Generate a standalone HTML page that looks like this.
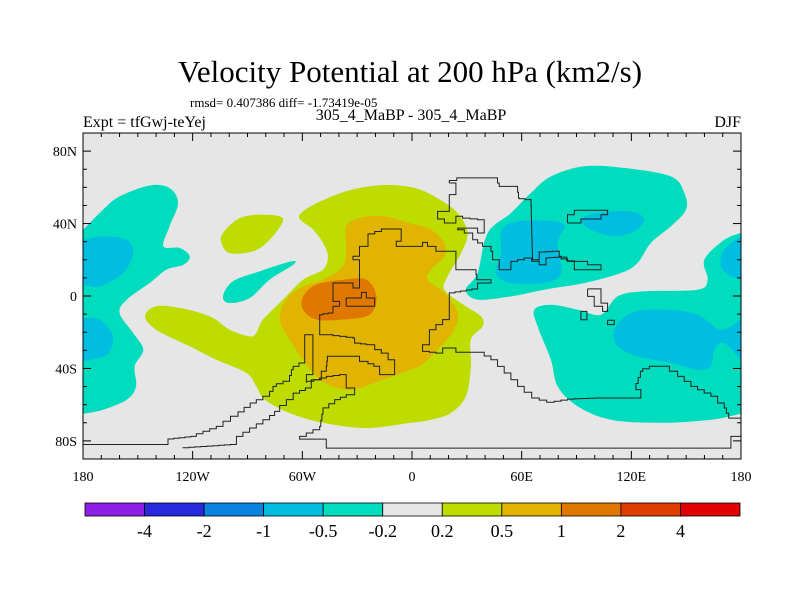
<!DOCTYPE html>
<html><head><meta charset="utf-8"><style>
body{margin:0;background:#fff}
svg text{font-family:"Liberation Serif",serif;fill:#000}
</style></head><body>
<svg id="c" width="800" height="600" xmlns="http://www.w3.org/2000/svg">
<text x="410" y="82" font-size="31" text-anchor="middle">Velocity Potential at 200 hPa (km2/s)</text>
<text x="190" y="107" font-size="13">rmsd= 0.407386 diff= -1.73419e-05</text>
<text x="83" y="127" font-size="16">Expt = tfGwj-teYej</text>
<text x="411" y="120" font-size="16" text-anchor="middle">305_4_MaBP - 305_4_MaBP</text>
<text x="741" y="127" font-size="16" text-anchor="end">DJF</text>
<defs><clipPath id="pc"><rect x="83" y="133" width="658" height="326"/></clipPath></defs>
<rect x="83" y="133" width="658" height="326" fill="#e6e6e6"/>
<g id="fills" clip-path="url(#pc)"></g>
<g id="coast" clip-path="url(#pc)" fill="none" stroke="#222" stroke-width="1"></g>
<rect x="83" y="133" width="658" height="326" fill="none" stroke="#000" stroke-width="1"/>
<g id="axes"></g>
<g id="cbar"></g>
</svg>
<script>
const NS="http://www.w3.org/2000/svg";
const X0=83,X1=741,Y0=133,Y1=459;
function xs(lon){return X0+(lon+180)/360*(X1-X0);}
function ys(lat){return Y0+(90-lat)/180*(Y1-Y0);}

const levelLabels=["-4","-2","-1","-0.5","-0.2","0.2","0.5","1","2","4"];
const levelColors=["#8c1ee6","#2828dc","#0a82e0","#00bee0","#00dcbe","#e6e6e6","#bedc00","#e0b400","#e07800","#e03c00","#e00000"];

const cyanWestLon=[-181,-180,-169,-160,-143.5,-132.6,-128,-132.6,-136,-127,-121.6,-125,-134.4,-143.5,-156,-160,-152.6,-147,-151.7,-151,-156,-169,-180,-181];
const cyanWestLat=[36.6,36.6,47.7,55,61,59.6,51.3,38.5,27.4,26.5,21.9,17.3,14.5,7.2,-2,-9.4,-20.4,-29.6,-38.8,-49.9,-57.2,-62.8,-65,-65];
const blueWest1Lon=[-181,-180,-169,-156,-152.6,-158,-171,-180,-181];
const blueWest1Lat=[31,31,33,31,23.7,12.7,5.3,6.3,6.3];
const blueWest2Lon=[-181,-180,-171,-163.6,-167,-180,-181];
const blueWest2Lat=[-12.2,-12.2,-13,-22.3,-32.4,-36,-36];
const greenBlobLon=[-103.4,-94.3,-81.5,-70.6,-77.9,-87,-99.8,-104.3];
const greenBlobLat=[34.8,43,44.9,42.5,31,24.7,23.7,29.3];
const cyanStreakLon=[-103.4,-98,-83.4,-66,-65,-77.9,-88.8,-99.8];
const cyanStreakLat=[-0.2,8.1,13.6,19.1,17.3,9,-1.1,-3.9];
const greenBigLon=[-61.5,-41.4,-19.5,0,14,25,30.4,26.8,19.5,17.7,26.8,37.7,38.6,32.2,32.2,29.5,21.3,10.4,-0.6,-25,-48.7,-67,-80.6,-85.2,-90.6,-107,-121.6,-140,-146,-140,-127,-110.7,-99.8,-88.8,-85.2,-81.5,-70.6,-59.6,-48.7,-46,-48.7,-54];
const greenBigLat=[44.9,56,61,60,54,45.8,34.8,23.7,10.9,3.5,-3.9,-11.2,-16.8,-24.1,-38.8,-55.4,-64.6,-68.3,-70,-72.9,-70,-64.6,-57.2,-49.9,-42.5,-35.2,-27.8,-18.6,-11.2,-5.7,-6.6,-11.2,-18.6,-22.3,-20.4,-13,-2,9,14.5,21.9,29.3,36.6];
const orangeLon=[-36,-28.7,-15.9,0,10.4,17.7,17.7,10.4,8.5,17.7,25,23.1,15.8,6.7,-0.6,-15.9,-32.3,-43.2,-52.4,-59.6,-67,-72.4,-68.8,-59.6,-48.7,-37.8,-36];
const orangeLat=[38.5,43,44,39.8,36.6,29.3,21.9,14.5,9,1.7,-9.4,-18.6,-27.8,-37,-40.7,-46.2,-51.7,-49.9,-44.4,-35.2,-24.1,-13,-2,5.3,9,16.4,27.4];
const darkOrangeLon=[-59.6,-52.4,-37.8,-25,-19.5,-23.2,-37.8,-52.4,-59.6];
const darkOrangeLat=[-0.2,6.3,9,9,-0.2,-10.3,-13,-13,-7.6];
const cyanNELon=[29.5,35.9,41.4,54.1,65.1,76,94.3,116.1,141.7,149,149.9,141.7,130.7,123.4,114.3,94.3,72.4,54.1,35.9];
const cyanNELat=[3.5,12.7,34.8,45.8,56.9,66,71.6,70.7,66,56.9,47.7,38.5,29.3,18.2,12.7,7.2,3.5,-0.2,-2];
const blueNE1Lon=[48.7,54.1,68.7,83.3,79.7,81.5,72.4,54.1,45.9,48.7];
const blueNE1Lat=[34.8,40.3,41.8,39.4,29.3,12.7,7.2,7.2,12.7,23.7];
const blueNE2Lon=[92.4,101.5,119.8,127.1,121.6,110.7,97.9];
const blueNE2Lat=[42.1,45.8,46.7,42.1,35.7,32.9,36.6];
const cyanSELon=[66.9,76,90.6,103.4,112.5,127.1,156.2,161.7,159.9,170.8,180,181,181,180,163.5,136.2,108.8,90.6,79.7,76,68.7];
const cyanSELat=[-7.5,-4.8,-7.5,-10.3,-0.2,2.6,3.5,9,20,31,34.8,34.8,-65,-65,-68.3,-70,-68.3,-60.9,-49.9,-35.2,-16.8];
const blueSE1Lon=[110.7,119.8,138,156.2,169,180,181,181,180,170.8,165.4,163.5,156.2,141.7,123.4,112.5];
const blueSE1Lat=[-18.6,-9.4,-7.5,-10.3,-18.6,-13,-13,-35,-35.2,-26,-29.6,-38.8,-40.7,-37,-33.3,-27.8];
const blueSE2Lon=[181,180,170.8,169,174.5,180,181];
const blueSE2Lat=[32.9,32.9,25.6,16.4,10.9,10,10];

const regions=[
 ["cyan-west-region",cyanWestLon,cyanWestLat,4],
 ["cyan-southeast-region",cyanSELon,cyanSELat,4],
 ["cyan-northeast-region",cyanNELon,cyanNELat,4],
 ["cyan-streak-region",cyanStreakLon,cyanStreakLat,4],
 ["blue-west-upper-region",blueWest1Lon,blueWest1Lat,3],
 ["blue-west-lower-region",blueWest2Lon,blueWest2Lat,3],
 ["blue-northeast-region",blueNE1Lon,blueNE1Lat,3],
 ["blue-northeast-small-region",blueNE2Lon,blueNE2Lat,3],
 ["blue-southeast-region",blueSE1Lon,blueSE1Lat,3],
 ["blue-east-edge-region",blueSE2Lon,blueSE2Lat,3],
 ["green-blob-region",greenBlobLon,greenBlobLat,6],
 ["green-main-region",greenBigLon,greenBigLat,6],
 ["orange-region",orangeLon,orangeLat,7],
 ["dark-orange-region",darkOrangeLon,darkOrangeLat,8]
];

const coast1Lon=[-180,-178,-133.5,-133.5,-118,-110.7,-103.4,-95.2,-85.2,-77.9,-74.2,-67,-65,-58.7,-58.7,-54.2,-54.2,-57.8,-57.8,-49.6,-46.9,-46,-28.7,-24.1,-17.7,-16.8,-9.5,-9.5,-13.1,-16.8,-20.4,-25,-31.4,-32.3,-46.9,-50.5,-50.5,-48.7,-43.2,-39.6,-39.6,-43.2,-43.2,-38.7,-32.3,-31.4,-28.7,-28.7,-32.3,-32.3,-28.7,-28.7,-24.1,-24.1,-13.1,-5.9,-5.9,-8.6,-5,0.5,5.8,5.8,8.5,8.5,13.1,13.1,24,24,35,36,43.2,43.2,35.9,35.9,20.4,20.4,13.1,9.5,9.5,5.8,5.8,9.5,16.8,16.8,24,24,39.5,46.8,54.1,61.4,69.6,77.8,88.8,103.4,125.2,125.2,122.5,126.2,133.5,140.8,145.3,156.2,167.2,170.8,174.5,180];
const coast1Lat=[-80.3,-82,-82,-79.3,-77.5,-74.7,-72,-66.4,-59.1,-55.4,-49.9,-47.1,-40.7,-37,-21.4,-21.4,-42.5,-43.4,-48,-46.2,-41.6,-33.3,-33.3,-36.1,-38.8,-43.4,-43.4,-36.1,-35.2,-31.5,-29.6,-26.9,-26,-23.2,-21.4,-21.4,-13.1,-10.3,-9.4,-5.7,-3,-3,5.3,7.2,7.2,4.4,4.4,20,20,22,22,27.4,27.4,32.9,37,37,32,30.2,27.4,27.4,27.4,29.6,29.6,27.4,27.4,24.7,24.7,14.5,14.5,9,9,7.2,7.2,4.4,1.7,-10.3,-15.8,-18.6,-26.9,-26.9,-28,-30.6,-31.5,-28.7,-28.7,-31.1,-31.1,-35.2,-42.5,-49.9,-56.3,-58.7,-56.9,-56.3,-56.3,-53.6,-51.7,-41.6,-38.8,-38.8,-41.6,-49.9,-55.4,-59.1,-67.4,-67.4];
const coast2Lon=[-125.3,-96.1,-92.5,-85.2,-77.9,-72.4,-65,-61.5,-55.1,-50.5,-43.2,-36,-36,-31.4,-36,-42.3,-48.7,-50.5,-61.5,-61.5,-46.9,-46.9,174.5,174.5,180];
const coast2Lat=[-84,-82,-77.5,-72.9,-68.3,-63.7,-57.2,-53.6,-50.8,-46.2,-44.4,-43.4,-49,-50.8,-54.5,-57.2,-61.8,-72,-77.5,-79,-79,-84,-84,-77.5,-77.5];
const coast3Lon=[-36,-32.3,-27.7,-27.7,-25,-23.2,-20.4,-20.4,-36];
const coast3Lat=[-5.7,-1.1,-1.1,2,2,-1.1,-1.1,-5.7,-5.7];
const coast4Lon=[20.4,28.6,46.8,47.7,50.5,57.8,58.7,65.1,66,69.6,69.6,80.6,81.5,88.8,96.1,96.1,103.4,103.4,88.8,88.8,80.6,73.3,69.6,61.4,54.1,50.5,47.7,47.7,44.1,43.2,38.6,33.2,28.6,25,25,35.9,39.5,39.5,35.9,27.7,24,24,17.7,14,14,17.7,20.4,20.4,24,24,20.4];
const coast4Lat=[62.4,65.2,65.2,62.4,60.5,60.5,54.1,53.2,20,20,24.1,24.7,21.9,19.1,19.1,17.3,17.3,14.5,14.5,17.3,21.5,21,17.3,21,19.1,14.5,14.5,18.2,20,24.7,27.4,31.1,34.8,36.6,37.5,37.5,34.8,40.3,42.1,43,44,40.3,40.3,42.5,44.9,46.7,46.7,54.1,56,59.6,62.4];
const coast5Lon=[85.1,85.1,88.8,88.8,107,107,103.4,103.4,92.4,92.4,85.1];
const coast5Lat=[40.3,44.9,44.9,47.3,47.3,44.9,44.9,42.5,42.5,40.3,40.3];
const coast6Lon=[96.1,103.4,103.4,107,107,104.3,99.7,99.7,96.1,96.1];
const coast6Lat=[3.9,3.9,-2,-3.9,-7.5,-8.5,-5.7,-0.2,-0.2,3.9];
const coast7Lon=[92.4,95.7,95.7,92.4,92.4];
const coast7Lat=[-8.5,-8.5,-13.1,-13.1,-8.5];
const coast8Lon=[107,110.7,110.7,107,107];
const coast8Lat=[-13.4,-13.4,-15.8,-15.8,-13.4];
const coasts=[[coast1Lon,coast1Lat],[coast2Lon,coast2Lat],[coast3Lon,coast3Lat],[coast4Lon,coast4Lat],[coast5Lon,coast5Lat],[coast6Lon,coast6Lat],[coast7Lon,coast7Lat],[coast8Lon,coast8Lat]];

const xTickVals=[-180,-120,-60,0,60,120,180];
const xTickLabels=["180","120W","60W","0","60E","120E","180"];
const yTickVals=[80,40,0,-40,-80];
const yTickLabels=["80N","40N","0","40S","80S"];

function smoothClosed(P){
  const n=P.length;let d="M"+P[0][0].toFixed(1)+","+P[0][1].toFixed(1);
  for(let i=0;i<n;i++){
    const p0=P[(i-1+n)%n],p1=P[i],p2=P[(i+1)%n],p3=P[(i+2)%n];
    const c1=[p1[0]+(p2[0]-p0[0])/6,p1[1]+(p2[1]-p0[1])/6];
    const c2=[p2[0]-(p3[0]-p1[0])/6,p2[1]-(p3[1]-p1[1])/6];
    d+="C"+c1.map(v=>v.toFixed(1)).join(",")+" "+c2.map(v=>v.toFixed(1)).join(",")+" "+p2[0].toFixed(1)+","+p2[1].toFixed(1);
  }
  return d+"Z";
}
function stairs(P){
  const out=[P[0]];
  for(let i=1;i<P.length;i++){
    const a=P[i-1],b=P[i];const dx=b[0]-a[0],dy=b[1]-a[1];
    if(Math.abs(dx)>1&&Math.abs(dy)>1){
      const n=Math.max(1,Math.round(Math.max(Math.abs(dx),Math.abs(dy))/6));
      for(let k=1;k<=n;k++){
        const px=a[0]+dx*(k-1)/n,py=a[1]+dy*k/n;
        out.push([px,py]);out.push([a[0]+dx*k/n,py]);
      }
    } else out.push(b);
  }
  return out;
}
const fills=document.getElementById("fills");
regions.forEach(r=>{
  const pts=r[1].map((lo,i)=>[xs(lo),ys(r[2][i])]);
  const p=document.createElementNS(NS,"path");
  p.setAttribute("d",smoothClosed(pts));
  p.setAttribute("fill",levelColors[r[3]]);
  
  
  fills.appendChild(p);
});
const cg=document.getElementById("coast");
coasts.forEach((c,k)=>{
  const pts=stairs(c[0].map((lo,i)=>[xs(lo),ys(c[1][i])]));
  const p=document.createElementNS(NS,"polyline");
  p.setAttribute("points",pts.map(q=>q[0].toFixed(1)+","+q[1].toFixed(1)).join(" "));
  
  
  cg.appendChild(p);
});
const ax=document.getElementById("axes");
function line(x1,y1,x2,y2,name){
  const l=document.createElementNS(NS,"line");
  l.setAttribute("x1",x1);l.setAttribute("y1",y1);l.setAttribute("x2",x2);l.setAttribute("y2",y2);
  l.setAttribute("stroke","#000");l.setAttribute("stroke-width","1");
  
  
  ax.appendChild(l);
}
function txt(x,y,s,anchor,size,name,parent){
  const t=document.createElementNS(NS,"text");
  t.setAttribute("x",x);t.setAttribute("y",y);t.setAttribute("text-anchor",anchor);t.setAttribute("font-size",size);
  t.textContent=s;
  
  
  parent.appendChild(t);
}
for(let lon=-180;lon<=180;lon+=10){
  const major=lon%60===0;const L=major?8:4;const x=xs(lon);
  line(x,Y0,x,Y0+L,"x-tick-top");line(x,Y1,x,Y1-L,"x-tick-bottom");
}
for(let lat=-90;lat<=90;lat+=10){
  const major=(lat%40===0);const L=major?8:4;const y=ys(lat);
  line(X0,y,X0+L,y,"y-tick-left");line(X1,y,X1-L,y,"y-tick-right");
}
xTickVals.forEach((v,i)=>txt(xs(v),481,xTickLabels[i],"middle",14,"x-tick-label",ax));
yTickVals.forEach((v,i)=>txt(X0-6,ys(v)+5,yTickLabels[i],"end",14,"y-tick-label",ax));
const cb=document.getElementById("cbar");
const CB0=85,CB1=740,CBY=503,CBH=13,w=(CB1-CB0)/levelColors.length;
levelColors.forEach((c,i)=>{
  const r=document.createElementNS(NS,"rect");
  r.setAttribute("x",CB0+i*w);r.setAttribute("y",CBY);r.setAttribute("width",w);r.setAttribute("height",CBH);
  r.setAttribute("fill",c);r.setAttribute("stroke","#000");r.setAttribute("stroke-width","0.8");
  
  
  cb.appendChild(r);
});
levelLabels.forEach((s,i)=>txt(CB0+(i+1)*w,537,s,"middle",18,"colorbar-label",cb));
</script>
</body></html>
